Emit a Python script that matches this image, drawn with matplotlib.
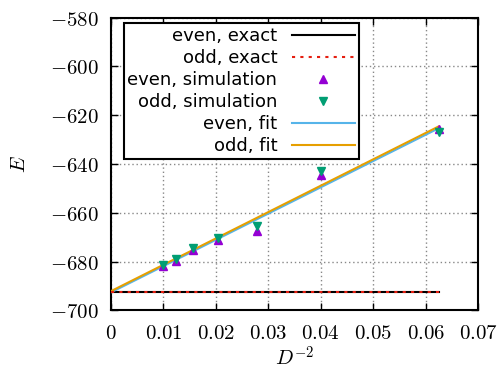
import numpy as np
import matplotlib
matplotlib.use("Agg")
import matplotlib.pyplot as plt

plt.rcParams['mathtext.fontset'] = 'cm'

# inverse squared system size D^-2 for D = 10, 9, 8, 7, 6, 5, 4
inv_d2 = [1/100, 1/81, 1/64, 1/49, 1/36, 1/25, 1/16]
even_sim = [-682.0, -679.6, -675.4, -671.0, -667.4, -644.7, -625.8]
odd_sim = [-681.2, -678.8, -674.4, -670.2, -665.4, -642.8, -626.8]

exact_even = -692.3
exact_odd = -692.3

# linear fits E = a + b * D^-2
even_fit = (-692.6, 1076.0)
odd_fit = (-692.1, 1080.0)

x_ticks = [0, 0.01, 0.02, 0.03, 0.04, 0.05, 0.06, 0.07]
y_ticks = [-700, -680, -660, -640, -620, -600, -580]

fig = plt.figure(figsize=(5.0, 3.74), dpi=100)
ax = fig.add_axes([0.222, 0.170, 0.734, 0.783])

xs = np.array([0.0, max(inv_d2)])
ax.plot(xs, [exact_even, exact_even], color='black', lw=1.5, label='even, exact', zorder=3)
ax.plot(xs, [exact_odd, exact_odd], color='#e51e10', lw=1.5, ls=(0, (1.5, 2.5)),
        label='odd, exact', zorder=4)
ax.plot(inv_d2, even_sim, ls='none', marker='^', ms=6, color='#9400d3',
        label='even, simulation', zorder=5)
ax.plot(inv_d2, odd_sim, ls='none', marker='v', ms=6, color='#009e73',
        label='odd, simulation', zorder=6)
ax.plot(xs, even_fit[0] + even_fit[1] * xs, color='#56b4e9', lw=1.5,
        label='even, fit', zorder=3)
ax.plot(xs, odd_fit[0] + odd_fit[1] * xs, color='#e69f00', lw=1.5,
        label='odd, fit', zorder=3)

ax.set_xlim(0, 0.07)
ax.set_ylim(-700, -580)
ax.set_xticks(x_ticks)
ax.set_yticks(y_ticks)
ax.set_xticklabels(['$%g$' % t for t in x_ticks])
ax.set_yticklabels(['$%d$' % t for t in y_ticks])
ax.tick_params(direction='in', length=5, width=1, top=True, right=True,
               labelsize=15, pad=9)
ax.grid(True, color='#888888', ls=(0, (1, 2)), lw=1)
for s in ax.spines.values():
    s.set_linewidth(1.5)

ax.set_xlabel('$D^{-2}$', fontsize=15, labelpad=2)
ax.set_ylabel('$E$', fontsize=15, labelpad=15)

leg = ax.legend(loc='upper left', bbox_to_anchor=(0.035, 0.98), borderaxespad=0,
                markerfirst=False, fontsize=13, handlelength=3.5, labelspacing=0.22,
                fancybox=False, framealpha=1, edgecolor='black',
                borderpad=0.2, handletextpad=0.8)
leg.get_frame().set_linewidth(1.5)
for t in leg.get_texts():
    t.set_ha('right')
leg._legend_box.align = 'right'

fig.savefig('out.png', dpi=100)
